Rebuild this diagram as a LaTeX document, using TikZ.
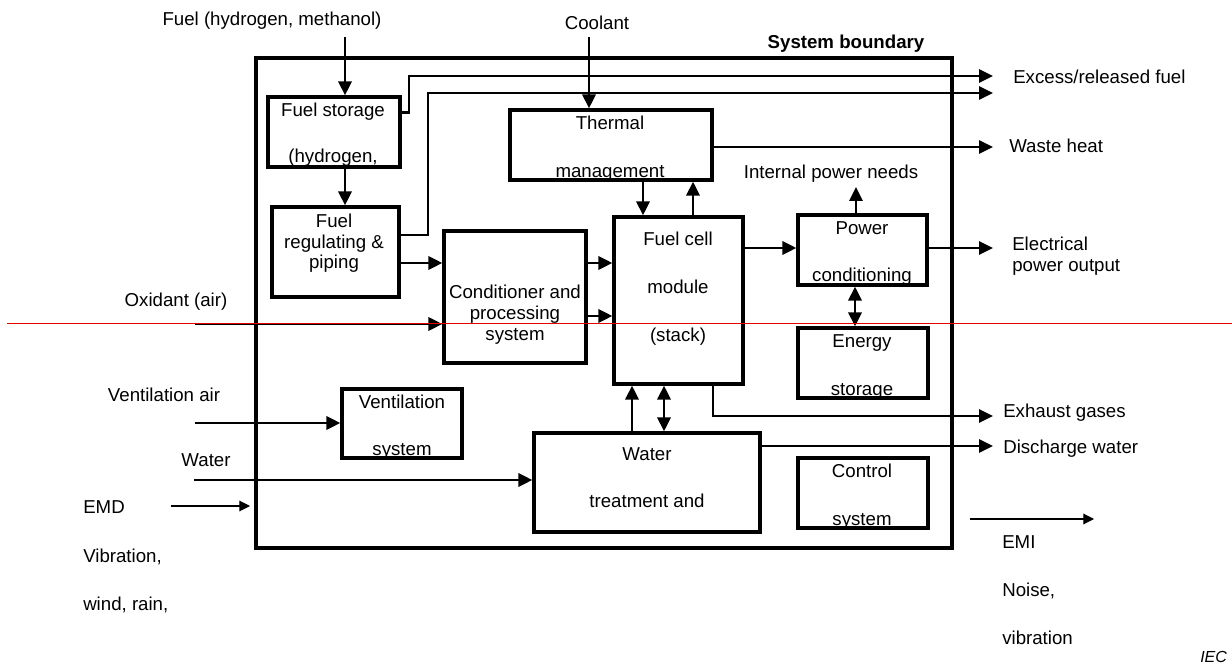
\documentclass[tikz,border=0pt]{standalone}
\usepackage{fontspec}
\setmainfont{Liberation Sans}
\usetikzlibrary{arrows.meta,fit}
\begin{document}
\begin{tikzpicture}[x=0.75pt,y=-0.75pt,
  every node/.style={font=\fontsize{14}{15.75}\selectfont},
  box/.style={draw, line width=2.5pt, inner sep=0pt},
  bound/.style={draw, line width=3.2pt, inner sep=0pt},
  conn/.style={line width=1.7pt, -{Triangle[length=10.5pt,width=10pt]}},
  dbl/.style={line width=1.7pt, {Triangle[length=10.5pt,width=10pt]}-{Triangle[length=10.5pt,width=10pt]}},
  thinarrow/.style={line width=0.8pt, -{Triangle[length=8pt,width=8pt]}},
  txt/.style={inner sep=0pt, anchor=base},
  ltxt/.style={inner sep=0pt, anchor=base west},
]
\useasboundingbox (0,0) rectangle (1232,666);

% ---------- free texts ----------
\node[txt] (tfuel) at (272,26) {Fuel (hydrogen, methanol)};
\node[txt] (tcool) at (597,30) {Coolant};
\node[txt, font=\fontsize{14}{15.75}\selectfont\bfseries] (tsb) at (846,49) {System boundary};
\node[ltxt] (texc) at (1013,84) {Excess/released fuel};
\node[ltxt] (twh) at (1009,153) {Waste heat};
\node[txt] (tipn) at (831,179) {Internal power needs};
\node[ltxt] (tel1) at (1012,251) {Electrical};
\node[ltxt] (tel2) at (1012,272) {power output};
\node[ltxt] (texh) at (1003,418) {Exhaust gases};
\node[ltxt] (tdis) at (1003,454) {Discharge water};
\node[ltxt] (temi) at (1002,548) {EMI};
\node[ltxt] (tnoi) at (1002,596) {Noise,};
\node[ltxt] (tvib) at (1002,644) {vibration};
\node[ltxt, font=\fontsize{12}{14}\selectfont\itshape] (tiec) at (1200,662) {IEC};
\node[txt] (tox) at (176,307) {Oxidant (air)};
\node[txt] (tva) at (164,402) {Ventilation air};
\node[txt] (twa) at (206,467) {Water};
\node[ltxt] (temd) at (83,513) {EMD};
\node[ltxt] (tvb) at (83,562) {Vibration,};
\node[ltxt] (twr) at (83,610) {wind, rain,};

% ---------- box texts (clipped to their boxes) ----------
\begin{scope}\clip (268,97) rectangle (400,167);
\node[txt] (fs1) at (333,117) {Fuel storage};
\node[txt] (fs2) at (333,163) {(hydrogen,};
\end{scope}
\node[txt] (fr1) at (334,228) {Fuel};
\node[txt] (fr2) at (334,248.5) {regulating \&};
\node[txt] (fr3) at (334,269) {piping};
\begin{scope}\clip (510,110) rectangle (712,180);
\node[txt] (tm1) at (610,130) {Thermal};
\node[txt] (tm2) at (610,178) {management};
\end{scope}
\node[txt] (fc1) at (678,246) {Fuel cell};
\node[txt] (fc2) at (678,294) {module};
\node[txt] (fc3) at (678,342) {(stack)};
\node[txt] (cp1) at (515,299) {Conditioner and};
\node[txt] (cp2) at (515,320) {processing};
\node[txt] (cp3) at (515,341) {system};
\begin{scope}\clip (798,215) rectangle (927,285);
\node[txt] (pc1) at (862,235) {Power};
\node[txt] (pc2) at (862,282) {conditioning};
\end{scope}
\begin{scope}\clip (798,328) rectangle (928,398);
\node[txt] (es1) at (862,348) {Energy};
\node[txt] (es2) at (862,396) {storage};
\end{scope}
\begin{scope}\clip (798,458) rectangle (928,528);
\node[txt] (cs1) at (862,478) {Control};
\node[txt] (cs2) at (862,525) {system};
\end{scope}
\begin{scope}\clip (342,389) rectangle (462,458);
\node[txt] (vs1) at (402,409) {Ventilation};
\node[txt] (vs2) at (402,456) {system};
\end{scope}
\node[txt] (wt1) at (647,460) {Water};
\node[txt] (wt2) at (647,508) {treatment and};

% ---------- boxes ----------
\node[bound, fit={(256,58) (952,548)}] (sb) {};
\node[box, fit={(268,97) (400,167)}] (fs) {};
\node[box, fit={(272,207) (399,297)}] (fr) {};
\node[box, fit={(510,110) (712,180)}] (tm) {};
\node[box, fit={(614,217) (743,384)}] (fc) {};
\node[box, fit={(444,231) (586,363)}] (cp) {};
\node[box, fit={(798,215) (927,285)}] (pc) {};
\node[box, fit={(798,328) (928,398)}] (es) {};
\node[box, fit={(798,458) (928,528)}] (cs) {};
\node[box, fit={(342,389) (462,458)}] (vs) {};
\node[box, fit={(534,433) (760,532)}] (wt) {};

% ---------- coordinates ----------
\coordinate (fuelin) at (345,37);
\coordinate (coolin) at (589,37);
\coordinate (ex1) at (993,76);
\coordinate (ex2) at (993,93);
\coordinate (wh) at (993,147);
\coordinate (ipn) at (856,187);
\coordinate (elo) at (993,248);
\coordinate (exh) at (993,416);
\coordinate (dis) at (993,446);
\coordinate (oxin) at (195,324);
\coordinate (vain) at (195,423);
\coordinate (wain) at (194,480);
\coordinate (emds) at (171,506);
\coordinate (emde) at (250,506);
\coordinate (emis) at (970,519);
\coordinate (emie) at (1094,519);

% ---------- connectors ----------
\draw[conn] (fuelin) -- (fuelin |- fs.north);
\draw[conn] (fs.south -| fuelin) -- (fr.north -| fuelin);
\draw[conn] (fs.east |- 0,112.5) -- (409,112.5) -- (409,76) -- (ex1);
\draw[conn] (fr.east |- 0,235) -- (428,235) -- (428,93) -- (ex2);
\draw[conn] (fr.east |- 0,263) -- (cp.west |- 0,263);
\draw[conn] (oxin) -- (cp.west |- oxin);
\draw[conn] (cp.east |- 0,263) -- (fc.west |- 0,263);
\draw[conn] (cp.east |- 0,316) -- (fc.west |- 0,316);
\draw[conn] (coolin) -- (coolin |- tm.north);
\draw[conn] (tm.south -| 643,0) -- (fc.north -| 643,0);
\draw[conn] (fc.north -| 693,0) -- (tm.south -| 693,0);
\draw[conn] (tm.east |- wh) -- (wh);
\draw[conn] (fc.east |- 0,248) -- (pc.west |- 0,248);
\draw[conn] (pc.north -| ipn) -- (ipn);
\draw[conn] (pc.east |- elo) -- (elo);
\draw[dbl] (pc.south -| 855,0) -- (es.north -| 855,0);
\draw[conn] (fc.south -| 713,0) -- (713,416) -- (exh);
\draw[conn] (wt.north -| 632,0) -- (fc.south -| 632,0);
\draw[dbl] (wt.north -| 664,0) -- (fc.south -| 664,0);
\draw[conn] (wt.east |- dis) -- (dis);
\draw[conn] (vain) -- (vs.west |- vain);
\draw[conn] (wain) -- (wt.west |- wain);
\draw[thinarrow] (emds) -- (emde);
\draw[thinarrow] (emis) -- (emie);

% red marker line
\coordinate (redl) at (7,323.5);
\coordinate (redr) at (1232,323.5);
\draw[draw={rgb,255:red,230;green,0;blue,0}, line width=0.8pt] (redl) -- (redr);
\end{tikzpicture}
\end{document}
